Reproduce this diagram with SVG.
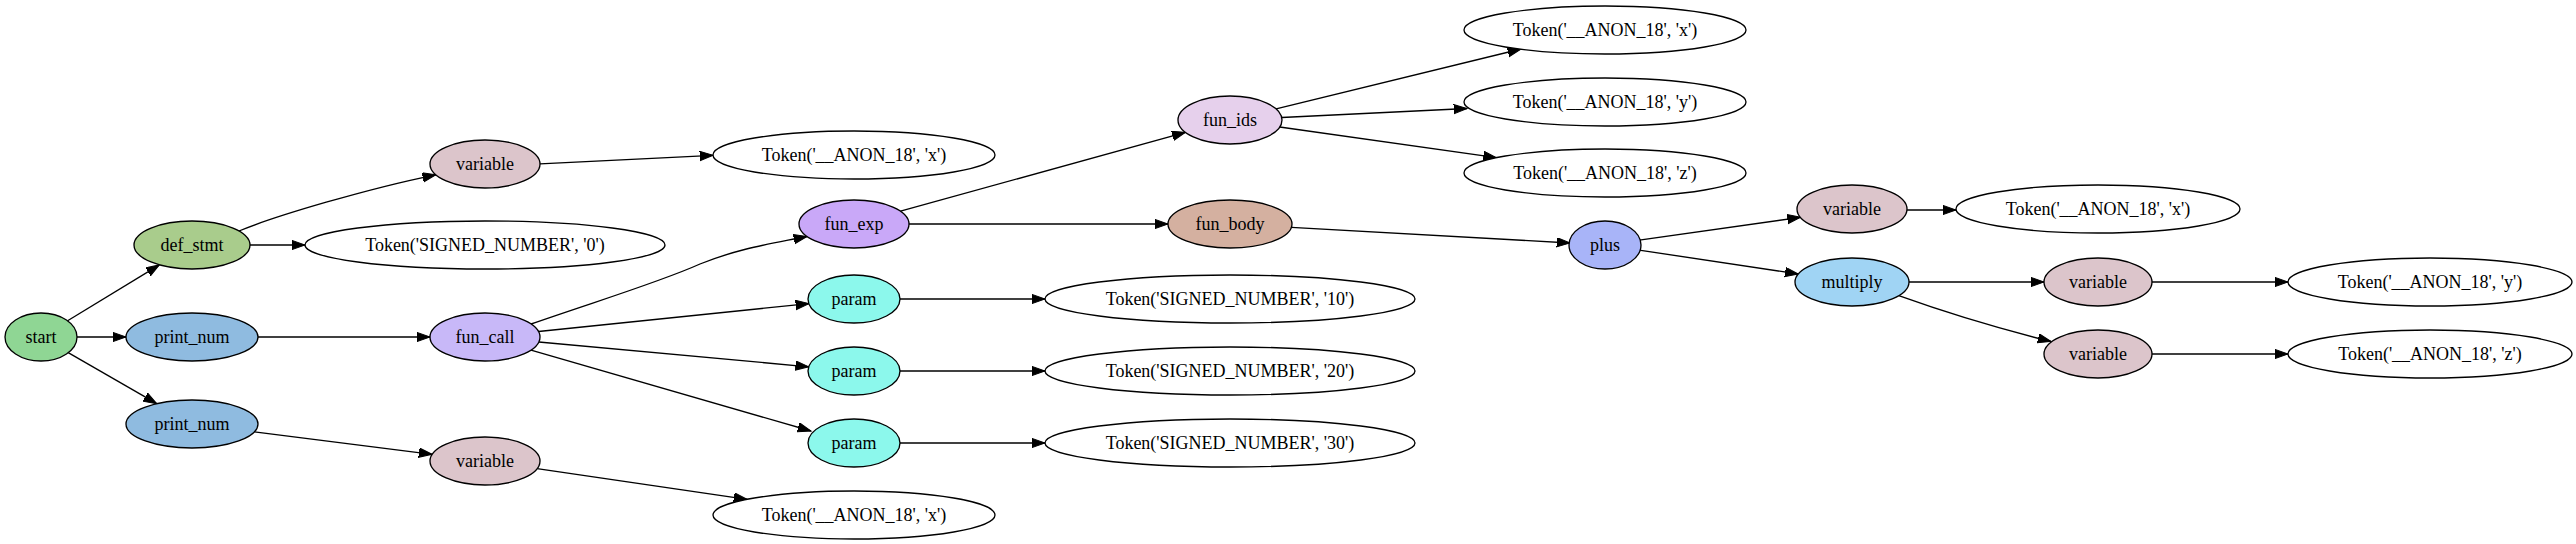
<svg xmlns="http://www.w3.org/2000/svg" width="2576" height="544" viewBox="0 0 2576 544">
<style>
ellipse{stroke:#000;stroke-width:1.33}
text{font-family:"Liberation Serif","Times New Roman",serif;font-size:18px;text-anchor:middle;fill:#000}
.e{fill:none;stroke:#000;stroke-width:1.33;marker-end:url(#ah)}
.tok{fill:#fff}
.var{fill:#dcc5cb}
.pn{fill:#8fbbe0}
.param{fill:#8cf8ec}
</style>
<defs>
<marker id="ah" markerUnits="userSpaceOnUse" markerWidth="15" markerHeight="11" refX="13.3" refY="4.7" orient="auto">
<path d="M0,0 L13.3,4.7 L0,9.4 z" fill="#000" stroke="#000" stroke-width="1"/>
</marker>
</defs>
<rect width="2576" height="544" fill="#fff"/>
<g id="edges">
<path class="e" d="M67.6,320.8 L159.4,264.9"/>
<path class="e" d="M77,337 L126,337"/>
<path class="e" d="M68.2,352.7 L156.8,403.7"/>
<path class="e" d="M239,231 C275,216 370,188 435.9,174.8"/>
<path class="e" d="M250,245 L305,245"/>
<path class="e" d="M258,337 L430,337"/>
<path class="e" d="M254.4,431.9 L432.2,454.3"/>
<path class="e" d="M540,163.9 L713,155.3"/>
<path class="e" d="M537.1,468.6 L747.1,499.4"/>
<path class="e" d="M531,324 C600,300 660,282 700,264 C740,248 770,244 807,236.5"/>
<path class="e" d="M538.5,331.5 L808.9,303.6"/>
<path class="e" d="M538.8,342 L808.7,366.8"/>
<path class="e" d="M531,350.2 L811,431"/>
<path class="e" d="M900.5,211.2 L1185.4,132.3"/>
<path class="e" d="M909,224 L1168,224"/>
<path class="e" d="M900,299 L1045,299"/>
<path class="e" d="M900,371 L1045,371"/>
<path class="e" d="M900,443 L1045,443"/>
<path class="e" d="M1276.1,108.9 L1521,49"/>
<path class="e" d="M1281.7,117.5 L1467,108.5"/>
<path class="e" d="M1279.7,127 L1496.5,157.7"/>
<path class="e" d="M1291.4,227.4 L1570,243"/>
<path class="e" d="M1639.3,240.1 L1800.6,217.3"/>
<path class="e" d="M1639.2,250.1 L1798.3,274"/>
<path class="e" d="M1906,210 L1956,210"/>
<path class="e" d="M1909,282 L2044,282"/>
<path class="e" d="M1898.8,295.7 Q1972,322 2051,341.5"/>
<path class="e" d="M2152,282 L2288,282"/>
<path class="e" d="M2152,354 L2288,354"/>
</g>
<g id="n_start"><ellipse cx="41" cy="337" rx="36" ry="24" fill="#8fd694"/><text x="41" y="343">start</text></g>
<g id="n_def_stmt"><ellipse cx="192" cy="245" rx="58" ry="24" fill="#a9cc8c"/><text x="192" y="251">def_stmt</text></g>
<g id="n_print_num1"><ellipse class="pn" cx="192" cy="337" rx="66" ry="24"/><text x="192" y="343">print_num</text></g>
<g id="n_print_num2"><ellipse class="pn" cx="192" cy="424" rx="66" ry="24"/><text x="192" y="430">print_num</text></g>
<g id="n_variable1"><ellipse class="var" cx="485" cy="164" rx="55" ry="24"/><text x="485" y="170">variable</text></g>
<g id="n_tok0"><ellipse class="tok" cx="485" cy="245" rx="180" ry="24"/><text x="485" y="251">Token('SIGNED_NUMBER', '0')</text></g>
<g id="n_fun_call"><ellipse cx="485" cy="337" rx="55" ry="24" fill="#c8b8f8"/><text x="485" y="343">fun_call</text></g>
<g id="n_variable2"><ellipse class="var" cx="485" cy="461" rx="55" ry="24"/><text x="485" y="467">variable</text></g>
<g id="n_tokx1"><ellipse class="tok" cx="854" cy="155" rx="141" ry="24"/><text x="854" y="161">Token('__ANON_18', 'x')</text></g>
<g id="n_fun_exp"><ellipse cx="854" cy="224" rx="55" ry="24" fill="#c9a8f8"/><text x="854" y="230">fun_exp</text></g>
<g id="n_param1"><ellipse class="param" cx="854" cy="299" rx="46" ry="24"/><text x="854" y="305">param</text></g>
<g id="n_param2"><ellipse class="param" cx="854" cy="371" rx="46" ry="24"/><text x="854" y="377">param</text></g>
<g id="n_param3"><ellipse class="param" cx="854" cy="443" rx="46" ry="24"/><text x="854" y="449">param</text></g>
<g id="n_tokx2"><ellipse class="tok" cx="854" cy="515" rx="141" ry="24"/><text x="854" y="521">Token('__ANON_18', 'x')</text></g>
<g id="n_fun_ids"><ellipse cx="1230" cy="120" rx="52" ry="24" fill="#e6d0ec"/><text x="1230" y="126">fun_ids</text></g>
<g id="n_fun_body"><ellipse cx="1230" cy="224" rx="62" ry="24" fill="#d4b0a0"/><text x="1230" y="230">fun_body</text></g>
<g id="n_tok10"><ellipse class="tok" cx="1230" cy="299" rx="185" ry="24"/><text x="1230" y="305">Token('SIGNED_NUMBER', '10')</text></g>
<g id="n_tok20"><ellipse class="tok" cx="1230" cy="371" rx="185" ry="24"/><text x="1230" y="377">Token('SIGNED_NUMBER', '20')</text></g>
<g id="n_tok30"><ellipse class="tok" cx="1230" cy="443" rx="185" ry="24"/><text x="1230" y="449">Token('SIGNED_NUMBER', '30')</text></g>
<g id="n_tokx3"><ellipse class="tok" cx="1605" cy="30" rx="141" ry="24"/><text x="1605" y="36">Token('__ANON_18', 'x')</text></g>
<g id="n_toky3"><ellipse class="tok" cx="1605" cy="102" rx="141" ry="24"/><text x="1605" y="108">Token('__ANON_18', 'y')</text></g>
<g id="n_tokz3"><ellipse class="tok" cx="1605" cy="173" rx="141" ry="24"/><text x="1605" y="179">Token('__ANON_18', 'z')</text></g>
<g id="n_plus"><ellipse cx="1605" cy="245" rx="36" ry="24" fill="#a8b4f8"/><text x="1605" y="251">plus</text></g>
<g id="n_variable3"><ellipse class="var" cx="1852" cy="209" rx="55" ry="24"/><text x="1852" y="215">variable</text></g>
<g id="n_multiply"><ellipse cx="1852" cy="282" rx="57" ry="24" fill="#a0d4f4"/><text x="1852" y="288">multiply</text></g>
<g id="n_tokx4"><ellipse class="tok" cx="2098" cy="209" rx="142" ry="24"/><text x="2098" y="215">Token('__ANON_18', 'x')</text></g>
<g id="n_variable4"><ellipse class="var" cx="2098" cy="282" rx="54" ry="24"/><text x="2098" y="288">variable</text></g>
<g id="n_variable5"><ellipse class="var" cx="2098" cy="354" rx="54" ry="24"/><text x="2098" y="360">variable</text></g>
<g id="n_toky4"><ellipse class="tok" cx="2430" cy="282" rx="142" ry="24"/><text x="2430" y="288">Token('__ANON_18', 'y')</text></g>
<g id="n_tokz4"><ellipse class="tok" cx="2430" cy="354" rx="142" ry="24"/><text x="2430" y="360">Token('__ANON_18', 'z')</text></g>
</svg>
